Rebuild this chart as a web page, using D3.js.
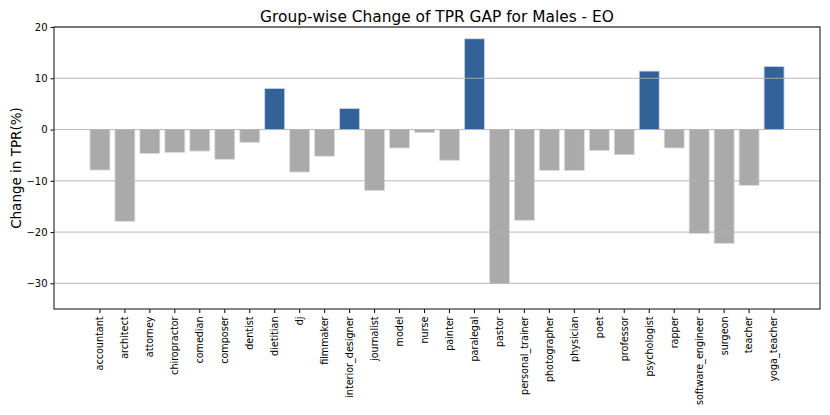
<!DOCTYPE html>
<meta charset="utf-8">
<style>
  body { margin: 0; background: #fff; }
  text { font-family: "DejaVu Sans", sans-serif; }
</style>
<body>
  <div id="chart" style="width: 830px; height: 415px;"></div>
  <script src="https://d3js.org/d3.v7.min.js"></script>
  <script>
    var groups = ['accountant', 'architect', 'attorney', 'chiropractor', 'comedian', 'composer',
      'dentist', 'dietitian', 'dj', 'filmmaker', 'interior_designer', 'journalist', 'model',
      'nurse', 'painter', 'paralegal', 'pastor', 'personal_trainer', 'photographer', 'physician',
      'poet', 'professor', 'psychologist', 'rapper', 'software_engineer', 'surgeon', 'teacher',
      'yoga_teacher'];
    var changes = [-7.9, -17.9, -4.7, -4.5, -4.2, -5.8, -2.5, 8.0, -8.3, -5.2, 4.1, -11.9, -3.6,
      -0.6, -6.0, 17.7, -30.0, -17.7, -8.0, -8.0, -4.1, -4.9, 11.4, -3.6, -20.3, -22.2, -10.9, 12.3];
    var yTicks = [-30, -20, -10, 0, 10, 20];

    var margin = { top: 27, right: 10, bottom: 106, left: 54 }
    var width = 830 - margin.left - margin.right
    var height = 415 - margin.top - margin.bottom

    var svg = d3.select('#chart').append('svg')
      .attr('width', 830)
      .attr('height', 415)

    var g = svg.append('g')
      .attr('transform', 'translate(' + margin.left + ',' + margin.top + ')');

    // matplotlib-like spacing: width 0.8, 5% margins
    var x = d3.scaleBand()
      .domain(groups)
      .range([0, width])
      .paddingInner(0.2)
      .paddingOuter(1.44);

    var y = d3.scaleLinear()
      .domain([-35, 20])
      .range([height, 0]);

    g.selectAll('.bar')
      .data(groups)
      .enter()
      .append('rect')
      .attr('class', 'bar')
      .attr('x', function (d) { return x(d); })
      .attr('width', x.bandwidth())
      .attr('y', function (d, i) { return y(Math.max(0, changes[i])); })
      .attr('height', function (d, i) { return Math.abs(y(changes[i]) - y(0)); })
      .style('fill', function (d, i) { return changes[i] > 0 ? '#336299' : '#aaaaaa'; })
      .style('stroke', function (d, i) { return changes[i] > 0 ? '#c9d6e6' : '#dddddd'; })
      .style('stroke-width', 0.8);

    // grid on top of bars
    g.selectAll('.grid')
      .data(yTicks)
      .enter()
      .append('line')
      .attr('class', 'grid')
      .attr('x1', 0)
      .attr('x2', width)
      .attr('y1', function (d) { return y(d); })
      .attr('y2', function (d) { return y(d); })
      .style('stroke', '#b0b0b0')
      .style('stroke-width', 0.9);

    var yAxis = g.append('g')
      .call(d3.axisLeft(y).tickValues(yTicks).tickSize(3.5).tickPadding(3)
        .tickFormat(function (d) { return d < 0 ? '\u2212' + Math.abs(d) : d; }));
    yAxis.select('.domain').remove();
    yAxis.selectAll('text').style('font-size', '10px').style('fill', '#000');

    var xAxis = g.append('g')
      .attr('transform', 'translate(0,' + height + ')')
      .call(d3.axisBottom(x).tickSize(4).tickPadding(3));
    xAxis.select('.domain').remove();
    xAxis.selectAll('text')
      .style('font-size', '9.6px')
      .style('fill', '#000')
      .attr('transform', 'rotate(-90)')
      .attr('text-anchor', 'end')
      .attr('x', -7.5)
      .attr('y', 0)
      .attr('dy', '0.35em');

    // frame
    g.append('rect')
      .attr('width', width)
      .attr('height', height)
      .style('fill', 'none')
      .style('stroke', '#333')
      .style('stroke-width', 1.2);

    svg.append('text')
      .attr('x', margin.left + width / 2)
      .attr('y', 22)
      .attr('text-anchor', 'middle')
      .style('font-size', '15.4px')
      .text('Group-wise Change of TPR GAP for Males - EO');

    svg.append('text')
      .attr('transform', 'translate(21,' + (margin.top + height / 2) + ') rotate(-90)')
      .attr('text-anchor', 'middle')
      .style('font-size', '13.5px')
      .text('Change in TPR(%)');
  </script>
</body>
